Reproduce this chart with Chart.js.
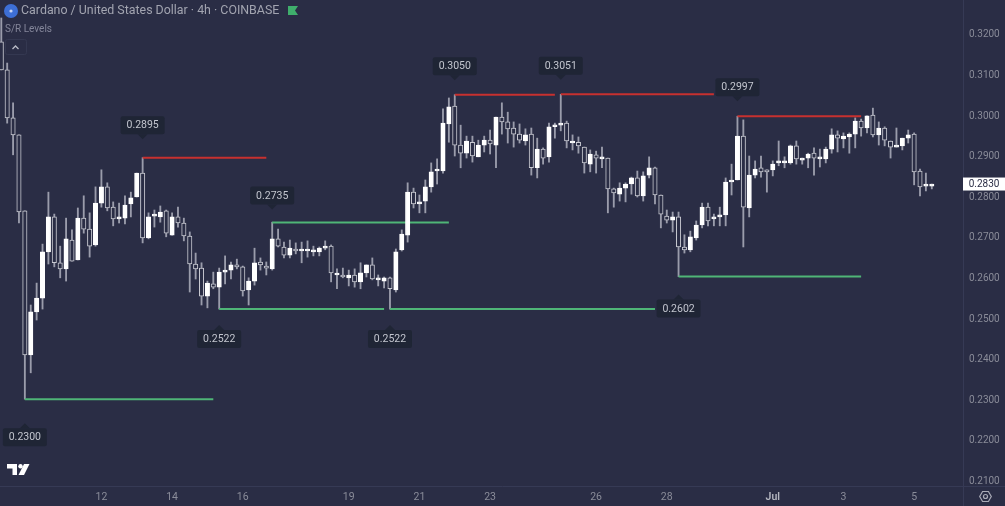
<!DOCTYPE html>
<html>
<head>
<meta charset="utf-8">
<title>Cardano / United States Dollar</title>
<script src="https://cdn.jsdelivr.net/npm/chart.js@4"></script>
<style>
    html, body { margin: 0; padding: 0; background: #2a2d45; }
    canvas { display: block; }
</style>
</head>
<body>
<canvas id="chart" width="1005" height="506"></canvas>
<script>
// 4h candles, one entry per candle
const opens = [
    .3180,.3111,.2993,.2951,.2764,.2409,.2515,.2549,.2663,.2749,.2636,.2621,.2692,.2643,.2746,.2719,
    .2680,.2783,.2823,.2773,.2744,.2746,.2781,.2798,.2857,.2697,.2751,.2749,.2764,.2704,.2749,.2734,
    .2702,.2633,.2623,.2554,.2584,.2576,.2613,.2618,.2631,.2626,.2569,.2591,.2638,.2628,.2621,.2695,
    .2675,.2655,.2670,.2665,.2665,.2663,.2663,.2672,.2677,.2606,.2606,.2599,.2606,.2589,.2611,.2631,
    .2594,.2591,.2599,.2569,.2668,.2704,.2810,.2781,.2788,.2823,.2862,.2862,.2978,.3022,.2926,.2906,
    .2933,.2897,.2926,.2938,.2926,.2995,.2983,.2968,.2953,.2936,.2953,.2870,.2916,.2897,.2971,.2975,
    .2980,.2931,.2933,.2921,.2879,.2902,.2892,.2894,.2818,.2805,.2820,.2830,.2845,.2801,.2852,.2870,
    .2803,.2751,.2741,.2749,.2675,.2668,.2697,.2729,.2773,.2744,.2749,.2754,.2835,.2840,.2948,.2771,
    .2852,.2870,.2862,.2865,.2882,.2882,.2882,.2924,.2889,.2894,.2906,.2892,.2892,.2916,.2951,.2941,
    .2946,.2953,.2985,.2968,.3000,.2951,.2968,.2936,.2921,.2924,.2943,.2953,.2862,.2825,.2825
];
const closes = [
    .3111,.2993,.2951,.2761,.2409,.2515,.2549,.2663,.2749,.2636,.2621,.2695,.2640,.2746,.2719,.2677,
    .2783,.2823,.2771,.2744,.2746,.2778,.2796,.2857,.2697,.2749,.2754,.2761,.2709,.2749,.2734,.2702,
    .2633,.2621,.2554,.2586,.2576,.2613,.2618,.2631,.2626,.2567,.2591,.2636,.2631,.2623,.2695,.2677,
    .2655,.2672,.2665,.2668,.2668,.2665,.2672,.2677,.2611,.2608,.2601,.2606,.2589,.2611,.2631,.2596,
    .2596,.2599,.2572,.2663,.2707,.2810,.2781,.2786,.2823,.2860,.2865,.2980,.3020,.2926,.2906,.2936,
    .2899,.2926,.2938,.2929,.2995,.2983,.2966,.2953,.2938,.2951,.2870,.2916,.2894,.2971,.2975,.2980,
    .2936,.2933,.2924,.2882,.2904,.2894,.2894,.2818,.2808,.2820,.2830,.2845,.2801,.2850,.2870,.2803,
    .2756,.2741,.2749,.2675,.2668,.2700,.2729,.2773,.2739,.2749,.2751,.2835,.2838,.2948,.2773,.2852,
    .2867,.2860,.2860,.2879,.2884,.2884,.2924,.2892,.2892,.2904,.2894,.2894,.2916,.2951,.2943,.2948,
    .2953,.2985,.2968,.2998,.2951,.2968,.2938,.2921,.2924,.2943,.2951,.2860,.2823,.2828,.2830
];
const highs = [
    .3239,.3128,.3030,.2951,.2764,.2532,.2586,.2682,.2810,.2756,.2677,.2746,.2717,.2771,.2801,.2759,
    .2823,.2865,.2833,.2786,.2783,.2801,.2810,.2857,.2895,.2759,.2766,.2776,.2766,.2759,.2773,.2746,
    .2712,.2660,.2636,.2591,.2613,.2623,.2653,.2638,.2645,.2628,.2599,.2672,.2648,.2638,.2736,.2719,
    .2687,.2692,.2685,.2687,.2690,.2677,.2675,.2690,.2680,.2621,.2623,.2618,.2621,.2636,.2631,.2648,
    .2606,.2601,.2601,.2670,.2717,.2833,.2820,.2803,.2840,.2882,.2892,.3015,.3042,.3050,.2975,.2948,
    .2948,.2938,.2948,.2963,.2995,.3030,.3007,.2983,.2978,.2966,.2968,.2943,.2919,.2980,.2980,.3051,
    .2985,.2951,.2946,.2921,.2914,.2911,.2921,.2894,.2820,.2833,.2833,.2847,.2862,.2860,.2897,.2872,
    .2803,.2766,.2761,.2761,.2705,.2714,.2739,.2783,.2783,.2756,.2773,.2845,.2879,.2997,.2988,.2899,
    .2887,.2899,.2865,.2887,.2936,.2897,.2926,.2936,.2894,.2906,.2919,.2916,.2921,.2966,.2961,.2956,
    .2956,.2993,.2990,.2998,.3017,.2983,.2971,.2936,.2968,.2943,.2963,.2956,.2867,.2857,.2830
];
const lows = [
    .3111,.2980,.2902,.2734,.2300,.2365,.2495,.2522,.2633,.2626,.2599,.2591,.2640,.2643,.2709,.2650,
    .2677,.2773,.2764,.2727,.2734,.2732,.2749,.2798,.2685,.2695,.2724,.2736,.2700,.2704,.2724,.2690,
    .2564,.2596,.2532,.2525,.2572,.2522,.2584,.2596,.2621,.2554,.2532,.2581,.2618,.2606,.2618,.2675,
    .2648,.2648,.2658,.2636,.2650,.2653,.2653,.2668,.2589,.2572,.2599,.2579,.2576,.2572,.2601,.2594,
    .2579,.2574,.2522,.2564,.2665,.2687,.2771,.2759,.2759,.2810,.2830,.2857,.2933,.2899,.2870,.2894,
    .2884,.2897,.2909,.2904,.2870,.2953,.2931,.2921,.2931,.2926,.2852,.2845,.2879,.2884,.2943,.2961,
    .2919,.2914,.2906,.2857,.2860,.2857,.2870,.2759,.2773,.2788,.2786,.2805,.2798,.2788,.2845,.2781,
    .2722,.2734,.2712,.2602,.2660,.2663,.2692,.2722,.2727,.2727,.2727,.2727,.2803,.2840,.2675,.2749,
    .2845,.2847,.2810,.2850,.2875,.2870,.2879,.2879,.2879,.2870,.2852,.2872,.2882,.2906,.2909,.2919,
    .2906,.2919,.2948,.2956,.2946,.2926,.2924,.2894,.2921,.2914,.2931,.2828,.2801,.2813,.2818
];

// support and resistance levels, start and end are candle numbers
const levelValues = [0.2300, 0.2895, 0.2735, 0.2522, 0.2522, 0.3050, 0.3051, 0.2602, 0.2997];
const levelStarts = [4, 24, 46, 37, 66, 77, 95, 115, 125];
const levelEnds = [36, 45, 76, 65, 111, 94, 121, 146, 146];
const levelKinds = ['s', 'r', 's', 's', 's', 'r', 'r', 's', 'r'];
const levelTagOffsets = [38, -32.5, -27, 30, 30, -28.5, -28.5, 32, -29];

const yTicks = [0.21, 0.22, 0.23, 0.24, 0.25, 0.26, 0.27, 0.28, 0.29, 0.30, 0.31, 0.32];
const xTickCandles = [17, 29, 41, 59, 71, 83, 101, 113, 131, 143, 155];
const xTickLabels = ['12', '14', '16', '19', '21', '23', '26', '28', 'Jul', '3', '5'];
const lastPrice = 0.2830;

const BG = '#2a2d45';
const AXIS_LINE = '#363a55';
const TEXT = '#a2a4b0';
const TICK_TEXT = '#8a8c99';
const BODY = '#c9cad2';
const WICK = '#9a9cab';
const RED = '#c7302f';
const GREEN = '#4fb577';
const TAG = '#1f2535';
const FONT = 'Roboto';

const candleIndex = opens.map((_, i) => i);

const wickData = candleIndex.map(i => ({ x: i, y: [lows[i], highs[i]] }));
const bodyData = candleIndex.map(i => ({ x: i, y: [opens[i], closes[i]] }));

const levelDatasets = levelValues.map((value, i) => ({
    type: 'line',
    data: [{ x: levelStarts[i], y: value }, { x: levelEnds[i], y: value }],
    borderColor: levelKinds[i] === 'r' ? RED : GREEN,
    borderWidth: 2,
    pointRadius: 0,
    order: 2
}));

function roundedBox(ctx, x, y, w, h, r) {
    ctx.beginPath();
    ctx.roundRect(x, y, w, h, r);
}

function noPadding(scale) {
    // the pane runs edge to edge, labels may hang over the ends
    scale.paddingLeft = 0;
    scale.paddingRight = 0;
    scale.paddingTop = 0;
    scale.paddingBottom = 0;
}

function drawTag(ctx, label, cx, cy, pointsDown) {
    const w = 44, h = 18;
    ctx.fillStyle = TAG;
    roundedBox(ctx, cx - w / 2, cy - h / 2, w, h, 2);
    ctx.fill();
    ctx.beginPath();
    if (pointsDown) {
        ctx.moveTo(cx - 5, cy + h / 2);
        ctx.lineTo(cx + 5, cy + h / 2);
        ctx.lineTo(cx, cy + h / 2 + 5);
    } else {
        ctx.moveTo(cx - 5, cy - h / 2);
        ctx.lineTo(cx + 5, cy - h / 2);
        ctx.lineTo(cx, cy - h / 2 - 5);
    }
    ctx.fill();
    ctx.fillStyle = '#c3c6cf';
    ctx.font = '10.5px ' + FONT;
    ctx.textAlign = 'center';
    ctx.textBaseline = 'middle';
    ctx.fillText(label, cx, cy + 0.5);
}

function drawHeader(ctx) {
    // coin logo
    ctx.fillStyle = '#3d6fd6';
    ctx.beginPath();
    ctx.arc(11, 11, 7, 0, Math.PI * 2);
    ctx.fill();
    ctx.fillStyle = '#c9d6f5';
    ctx.beginPath();
    ctx.arc(11, 11, 1.6, 0, Math.PI * 2);
    ctx.fill();

    ctx.textAlign = 'left';
    ctx.textBaseline = 'middle';
    ctx.fillStyle = TEXT;
    ctx.font = '12.4px ' + FONT;
    ctx.fillText('Cardano / United States Dollar · 4h · COINBASE', 21, 11);
    ctx.font = '10px ' + FONT;
    ctx.fillStyle = '#84869a';
    ctx.fillText('S/R Levels', 5, 29.5);

    // green flag
    ctx.fillStyle = '#3fae6c';
    ctx.beginPath();
    ctx.moveTo(288, 6);
    ctx.lineTo(298, 6);
    ctx.lineTo(295, 10.5);
    ctx.lineTo(298, 15);
    ctx.lineTo(288, 15);
    ctx.fill();

    // collapse button
    ctx.strokeStyle = '#343851';
    roundedBox(ctx, 5.5, 39.5, 21, 15, 2);
    ctx.stroke();
    ctx.strokeStyle = '#b9bbc6';
    ctx.lineWidth = 1.3;
    ctx.beginPath();
    ctx.moveTo(12.5, 49);
    ctx.lineTo(15.5, 46);
    ctx.lineTo(18.5, 49);
    ctx.stroke();
    ctx.lineWidth = 1;
}

function drawMarks(ctx) {
    // broker logo
    ctx.fillStyle = '#ffffff';
    ctx.beginPath();
    ctx.moveTo(7, 464);
    ctx.lineTo(17, 464);
    ctx.lineTo(17, 475);
    ctx.lineTo(12.5, 475);
    ctx.lineTo(12.5, 468.5);
    ctx.lineTo(7, 468.5);
    ctx.fill();
    ctx.beginPath();
    ctx.arc(20.5, 466.3, 2.2, 0, Math.PI * 2);
    ctx.fill();
    ctx.beginPath();
    ctx.moveTo(24, 464);
    ctx.lineTo(29.5, 464);
    ctx.lineTo(24, 475);
    ctx.lineTo(18.5, 475);
    ctx.fill();

    // settings icon
    ctx.strokeStyle = '#a9abb7';
    ctx.lineWidth = 1.2;
    ctx.beginPath();
    for (let i = 0; i < 6; i++) {
        const a = Math.PI / 3 * i;
        const px = 985.5 + 5.8 * Math.cos(a);
        const py = 496.5 + 5.8 * Math.sin(a);
        if (i === 0) ctx.moveTo(px, py); else ctx.lineTo(px, py);
    }
    ctx.closePath();
    ctx.stroke();
    ctx.beginPath();
    ctx.arc(985.5, 496.5, 2, 0, Math.PI * 2);
    ctx.stroke();
    ctx.lineWidth = 1;
}

const decorations = {
    id: 'decorations',
    beforeDraw(chart) {
        const ctx = chart.ctx;
        ctx.save();
        ctx.fillStyle = BG;
        ctx.fillRect(0, 0, chart.width, chart.height);
        ctx.strokeStyle = AXIS_LINE;
        ctx.beginPath();
        ctx.moveTo(0, chart.chartArea.bottom + 0.5);
        ctx.lineTo(chart.width, chart.chartArea.bottom + 0.5);
        ctx.moveTo(chart.chartArea.right + 0.5, 0);
        ctx.lineTo(chart.chartArea.right + 0.5, chart.height);
        ctx.stroke();
        ctx.restore();
    },
    afterDraw(chart) {
        const ctx = chart.ctx;
        const xs = chart.scales.x;
        const ys = chart.scales.y;
        ctx.save();
        levelValues.forEach((value, i) => {
            const cx = xs.getPixelForValue(levelStarts[i]);
            const cy = ys.getPixelForValue(value) + levelTagOffsets[i];
            drawTag(ctx, value.toFixed(4), cx, cy, levelTagOffsets[i] < 0);
        });

        // last price tag on the axis
        const py = ys.getPixelForValue(lastPrice);
        ctx.fillStyle = '#ffffff';
        ctx.fillRect(963, py - 6.5, 42, 13);
        ctx.fillStyle = '#2a2d45';
        ctx.font = '10px ' + FONT;
        ctx.textAlign = 'center';
        ctx.textBaseline = 'middle';
        ctx.fillText(lastPrice.toFixed(4), 984, py + 0.5);

        drawHeader(ctx);
        drawMarks(ctx);
        ctx.restore();
    }
};

new Chart(document.getElementById('chart').getContext('2d'), {
    type: 'bar',
    data: {
        datasets: [
            {
                data: wickData,
                grouped: false,
                barThickness: 1.2,
                backgroundColor: WICK,
                borderWidth: 0,
                order: 3
            },
            ...levelDatasets,
            {
                data: bodyData,
                grouped: false,
                barThickness: 4.4,
                minBarLength: 2,
                backgroundColor: candleIndex.map(i => closes[i] >= opens[i] ? '#ffffff' : BG),
                borderColor: candleIndex.map(i => closes[i] >= opens[i] ? '#ffffff' : BODY),
                borderWidth: 1,
                borderSkipped: false,
                order: 1
            }
        ]
    },
    options: {
        responsive: false,
        animation: false,
        events: [],
        layout: { padding: 0 },
        plugins: {
            legend: { display: false },
            title: { display: false },
            tooltip: { enabled: false }
        },
        scales: {
            x: {
                type: 'linear',
                offset: false,
                min: -0.22,
                max: 163.3,
                grid: { display: false, drawTicks: false },
                border: { display: false },
                afterFit(scale) {
                    scale.height = 20;
                    noPadding(scale);
                },
                afterBuildTicks(scale) {
                    scale.ticks = xTickCandles.map(v => ({ value: v }));
                },
                ticks: {
                    autoSkip: false,
                    maxRotation: 0,
                    padding: 5,
                    color: ctx => ctx.index === 8 ? '#b4b6c0' : TICK_TEXT,
                    font: ctx => ({ family: FONT, size: 10.5, weight: ctx.index === 8 ? '600' : '400' }),
                    callback: (value, index) => xTickLabels[index]
                }
            },
            y: {
                position: 'right',
                min: 0.20862,
                max: 0.32833,
                grid: { display: false, drawTicks: false },
                border: { display: false },
                afterFit(scale) {
                    scale.width = 42;
                    noPadding(scale);
                },
                afterBuildTicks(scale) {
                    scale.ticks = yTicks.map(v => ({ value: v }));
                },
                ticks: {
                    autoSkip: false,
                    padding: 6,
                    labelOffset: 1,
                    color: TICK_TEXT,
                    font: { family: FONT, size: 10 },
                    callback: value => value.toFixed(4)
                }
            }
        }
    },
    plugins: [decorations]
});
</script>
</body>
</html>
